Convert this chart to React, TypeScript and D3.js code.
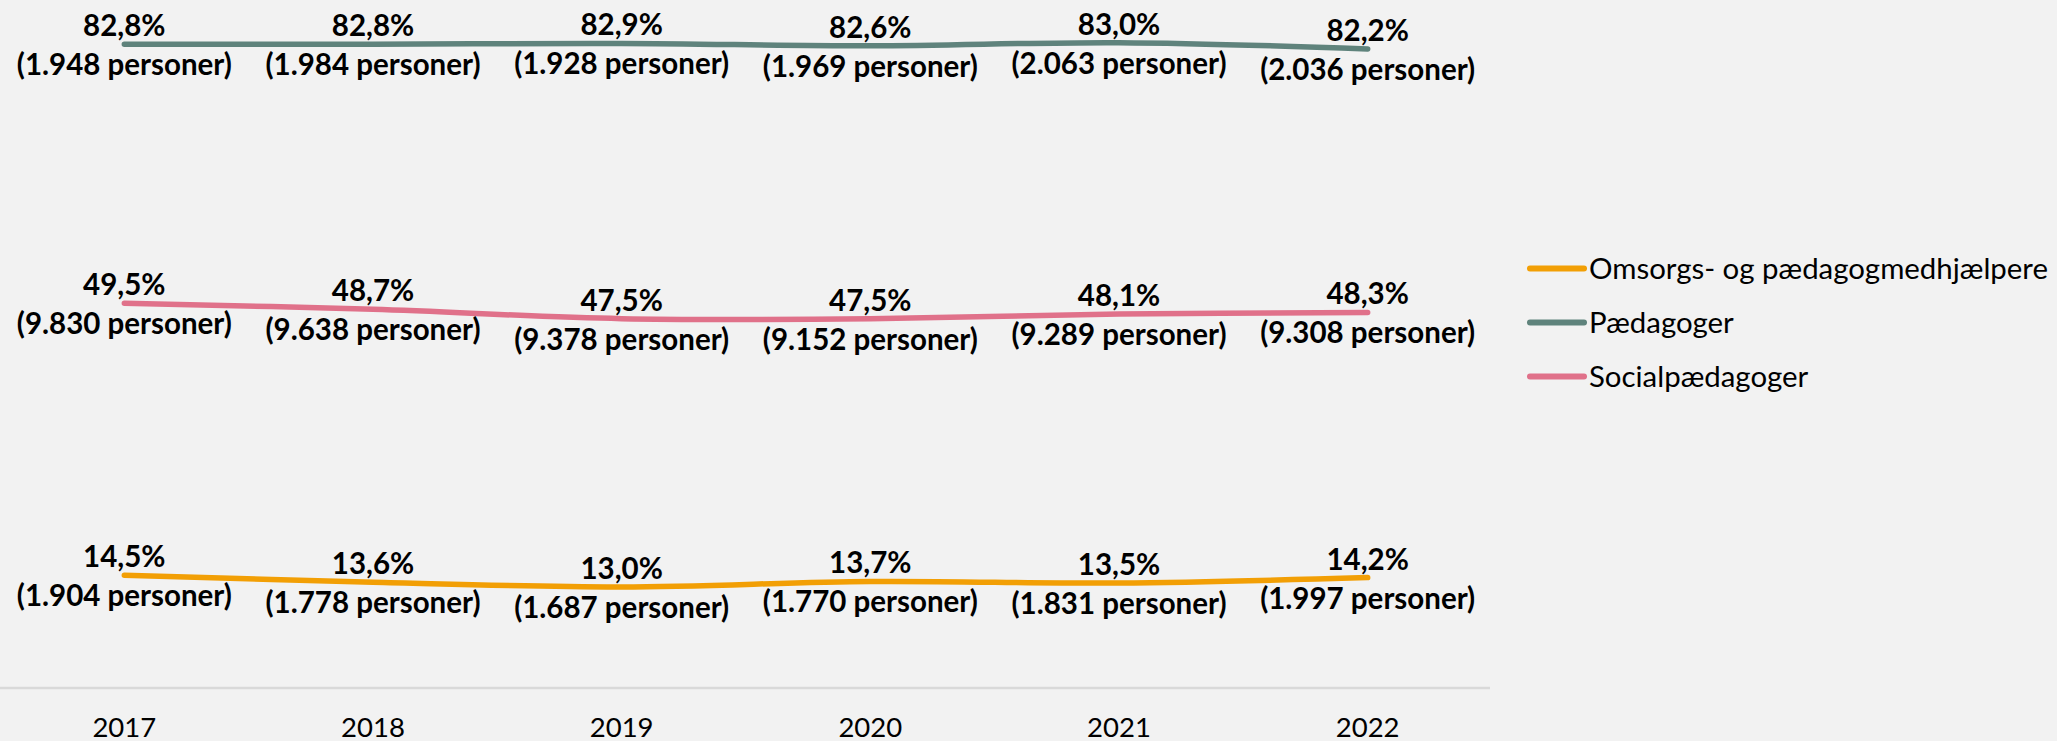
import React from 'react';
import * as d3 from 'd3';

const years = ['2017', '2018', '2019', '2020', '2021', '2022'];

const omsorgsPct = [14.5, 13.6, 13.0, 13.7, 13.5, 14.2];
const omsorgsCount = [1904, 1778, 1687, 1770, 1831, 1997];

const paedPct = [82.8, 82.8, 82.9, 82.6, 83.0, 82.2];
const paedCount = [1948, 1984, 1928, 1969, 2063, 2036];

const socialPct = [49.5, 48.7, 47.5, 47.5, 48.1, 48.3];
const socialCount = [9830, 9638, 9378, 9152, 9289, 9308];

const seriesNames = ['Omsorgs- og pædagogmedhjælpere', 'Pædagoger', 'Socialpædagoger'];
const seriesColors = ['#F29F05', '#5F837C', '#E0718A'];

const W = 2057;
const H = 741;

const da = d3.formatLocale({ decimal: ',', thousands: '.', grouping: [3], currency: ['', ' kr.'] });
const fmtPct = (v: number) => da.format('.1f')(v) + '%';
const fmtCount = (v: number) => `(${da.format(',')(v)} personer)`;

const App = () => {
  const x = d3.scaleBand().domain(years).range([0, 1492]);
  const cx = (yr: string) => (x(yr) as number) + x.bandwidth() / 2;
  const y = d3.scaleLinear().domain([0, 100]).range([688, -89.5]);

  const series = [
    { name: seriesNames[0], color: seriesColors[0], pct: omsorgsPct, count: omsorgsCount },
    { name: seriesNames[1], color: seriesColors[1], pct: paedPct, count: paedCount },
    { name: seriesNames[2], color: seriesColors[2], pct: socialPct, count: socialCount },
  ];

  const line = d3.line<number>()
    .x((_, i) => cx(years[i]))
    .y(d => y(d))
    .curve(d3.curveCatmullRom.alpha(0));

  const font = 'Lato, "Noto Sans", sans-serif';

  return (
    <svg width={W} height={H} style={{ position: 'absolute', left: 0, top: 0, display: 'block' }}>
      <rect width={W} height={H} fill="#F2F2F2" />

      {/* baseline */}
      <line x1={0} x2={1490} y1={y(0)} y2={y(0)} stroke="#D9D9D9" strokeWidth={2.5} />

      {/* year labels */}
      {years.map(yr => (
        <text key={yr} x={cx(yr)} y={737} textAnchor="middle" fontFamily={font} fontSize={27.5} fill="#000">
          {yr}
        </text>
      ))}

      {/* lines */}
      {series.map(s => (
        <path key={s.name} d={line(s.pct) || ''} fill="none" stroke={s.color}
          strokeWidth={5.5} strokeLinecap="round" strokeLinejoin="round" />
      ))}

      {/* data labels */}
      {series.map(s => s.pct.map((v, i) => (
        <text key={s.name + i} x={cx(years[i])} textAnchor="middle" fontFamily={font}
          fontWeight="bold" fontSize={29.5} fill="#000">
          <tspan x={cx(years[i])} y={y(v) - 8}>{fmtPct(v)}</tspan>
          <tspan x={cx(years[i])} y={y(v) + 31}>{fmtCount(s.count[i])}</tspan>
        </text>
      )))}

      {/* legend */}
      {series.map((s, i) => {
        const ly = 268.5 + i * 54;
        return (
          <g key={s.name}>
            <line x1={1530} x2={1584} y1={ly} y2={ly} stroke={s.color} strokeWidth={6} strokeLinecap="round" />
            <text x={1589} y={ly + 10} fontFamily={font} fontSize={29.4} fill="#000">{s.name}</text>
          </g>
        );
      })}
    </svg>
  );
};

export default App;
